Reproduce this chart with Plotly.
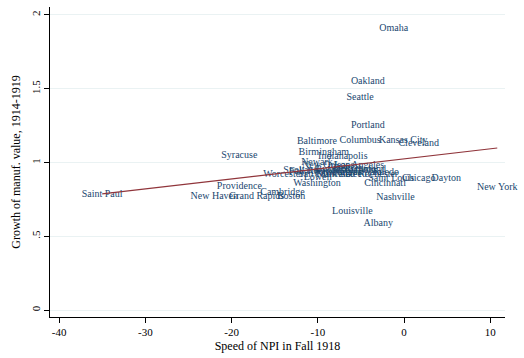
import numpy as np
import plotly.graph_objects as go

# City-level data: speed of non-pharmaceutical interventions (days) vs.
# growth of manufacturing output value, 1914-1919
cities = [
    "Omaha", "Oakland", "Seattle", "Portland", "Columbus", "Kansas City",
    "Cleveland", "Baltimore", "Birmingham", "Indianapolis", "Syracuse",
    "Newark", "Los Angeles", "New Orleans", "Toledo", "Chicago", "Dayton",
    "Cincinnati", "Washington", "Nashville", "Louisville", "Albany",
    "New York", "Saint Paul", "New Haven", "Providence", "Grand Rapids",
    "Cambridge", "Boston", "Worcester", "Spokane", "Fall River", "Lowell",
    "Buffalo", "Denver", "Milwaukee", "Minneapolis", "Philadelphia",
    "Pittsburgh", "Richmond", "San Francisco", "Saint Louis", "Rochester",
]
npi_speed = [
    -1.2, -4.2, -5.1, -4.2, -5.1, -0.1,
    1.7, -10.1, -9.3, -7.1, -19.1,
    -10.1, -5.2, -8.8, -2.2, 1.7, 4.9,
    -2.2, -10.1, -1.0, -6.0, -3.0,
    10.8, -35.0, -22.0, -19.1, -17.1,
    -14.1, -13.1, -14.0, -12.0, -11.0, -10.0,
    -8.5, -6.5, -7.5, -6.0, -5.5,
    -8.0, -4.5, -9.0, -1.5, -3.0,
]
manuf_growth = [
    1.91, 1.55, 1.44, 1.25, 1.15, 1.15,
    1.13, 1.14, 1.07, 1.04, 1.05,
    1.00, 0.98, 0.98, 0.93, 0.89, 0.89,
    0.86, 0.86, 0.76, 0.67, 0.59,
    0.83, 0.78, 0.77, 0.84, 0.77,
    0.80, 0.77, 0.92, 0.945, 0.94, 0.90,
    0.95, 0.96, 0.92, 0.945, 0.93,
    0.935, 0.95, 0.92, 0.895, 0.92,
]

x_ticks = [-40, -30, -20, -10, 0, 10]
x_tick_text = ["-40", "-30", "-20", "-10", "0", "10"]
y_ticks = [0, 0.5, 1, 1.5, 2]
y_tick_text = ["0", ".5", "1", "1.5", "2"]

NAVY = "#1a476f"
MAROON = "#90353b"
GRID = "#eaf2f3"
SERIF = "Liberation Serif, Times New Roman, serif"

# Linear fit line across the observed range
slope, intercept = np.polyfit(npi_speed, manuf_growth, 1)
fit_x = np.array([min(npi_speed), max(npi_speed)])
fit_y = intercept + slope * fit_x

fig = go.Figure()
fig.add_trace(go.Scatter(
    x=npi_speed, y=manuf_growth, mode="text", text=cities,
    textposition="middle center",
    textfont=dict(family=SERIF, size=10, color=NAVY),
    cliponaxis=False,
    showlegend=False, hoverinfo="text",
))
fig.add_trace(go.Scatter(
    x=fit_x, y=fit_y, mode="lines",
    line=dict(color=MAROON, width=1.2),
    showlegend=False, hoverinfo="skip",
))

fig.update_layout(
    width=524, height=358,
    margin=dict(l=50, r=19, t=7, b=39),
    paper_bgcolor="white", plot_bgcolor="white",
    font=dict(family=SERIF, size=11, color="black"),
    xaxis=dict(
        range=[-41.05, 11.7], tickvals=x_ticks, ticktext=x_tick_text,
        showgrid=False, zeroline=False,
        showline=True, linecolor="black", linewidth=1,
        ticks="outside", ticklen=5, tickcolor="black",
        tickfont=dict(family=SERIF, size=11),
        title=dict(text="Speed of NPI in Fall 1918", standoff=4,
                   font=dict(family=SERIF, size=12)),
    ),
    yaxis=dict(
        range=[-0.047, 2.054], tickvals=y_ticks, ticktext=y_tick_text,
        tickangle=-90,
        showgrid=True, gridcolor=GRID, gridwidth=1, zeroline=False,
        showline=True, linecolor="black", linewidth=1,
        ticks="outside", ticklen=5, tickcolor="black",
        tickfont=dict(family=SERIF, size=11),
        title=dict(text="Growth of manuf. value, 1914-1919", standoff=6,
                   font=dict(family=SERIF, size=12)),
    ),
)

fig.write_html("out.html")
